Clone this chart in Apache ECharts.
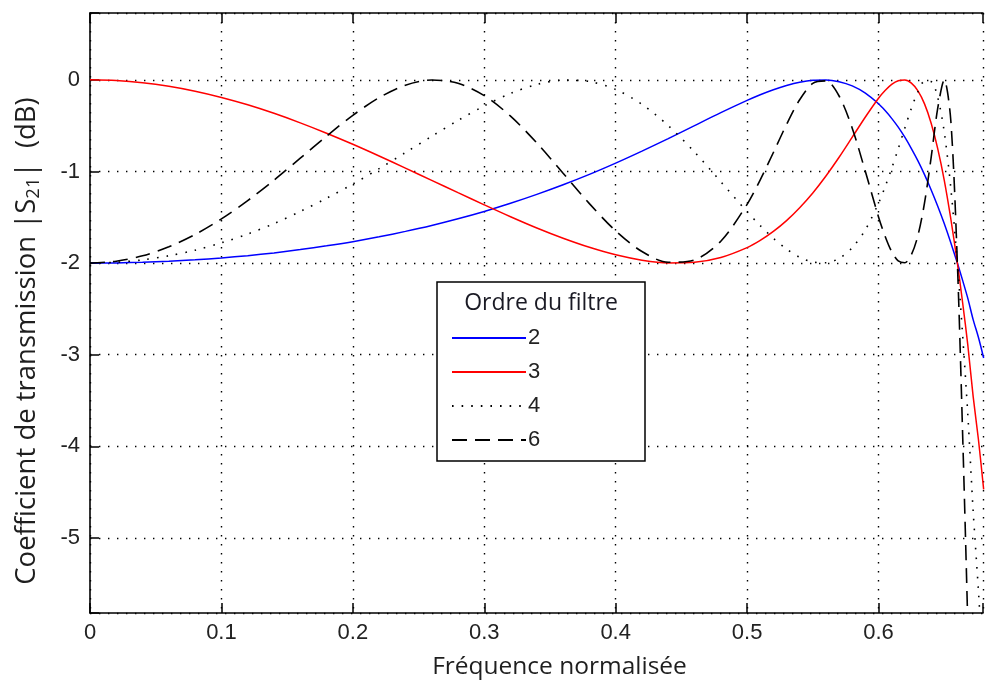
<!DOCTYPE html>
<html><head><meta charset="utf-8">
<script src="https://cdn.jsdelivr.net/npm/echarts@6/dist/echarts.min.js"></script>
<style>html,body{margin:0;padding:0;background:#fff}#c{width:986px;height:688px}</style>
</head><body><div id="c"></div>
<script>
// Normalised frequency samples
const freq = [0, 0.02, 0.04, 0.06, 0.08, 0.10, 0.12, 0.14, 0.16, 0.18, 0.20, 0.22, 0.24, 0.26, 0.28, 0.30, 0.32, 0.34, 0.36, 0.38, 0.40, 0.42, 0.44, 0.46, 0.48, 0.50,
  0.51, 0.52, 0.53, 0.54, 0.55, 0.56, 0.57, 0.58, 0.59, 0.60,
  0.605, 0.61, 0.615, 0.62, 0.625, 0.63, 0.635, 0.64, 0.645, 0.65, 0.655, 0.66,
  0.664, 0.668, 0.672, 0.676, 0.68];
// |S21| (dB), one list per filter order
const order2 = [-2.000, -1.998, -1.991, -1.980, -1.964, -1.944, -1.919, -1.889, -1.853, -1.812, -1.766, -1.713, -1.654, -1.589, -1.516, -1.436, -1.347, -1.250, -1.145, -1.032, -0.909, -0.778, -0.641, -0.499, -0.358, -0.224,
  -0.162, -0.107, -0.061, -0.025, -0.004, -0.001, -0.020, -0.066, -0.145, -0.261,
  -0.335, -0.420, -0.516, -0.626, -0.750, -0.884, -1.034, -1.199, -1.377, -1.569, -1.778, -2.000,
  -2.189, -2.388, -2.617, -2.810, -3.036];
const order3 = [0, -0.008, -0.031, -0.070, -0.124, -0.192, -0.272, -0.365, -0.469, -0.582, -0.703, -0.831, -0.963, -1.097, -1.231, -1.364, -1.494, -1.617, -1.729, -1.828, -1.910, -1.968, -1.998, -1.991, -1.939, -1.831,
  -1.752, -1.654, -1.536, -1.395, -1.234, -1.049, -0.845, -0.626, -0.405, -0.200,
  -0.116, -0.049, -0.009, -0.002, -0.036, -0.120, -0.262, -0.470, -0.747, -1.094, -1.516, -2.000,
  -2.433, -2.902, -3.456, -3.923, -4.471];
const order4 = [-2.000, -1.991, -1.965, -1.920, -1.859, -1.779, -1.683, -1.569, -1.436, -1.292, -1.138, -0.969, -0.794, -0.616, -0.443, -0.284, -0.148, -0.050, -0.003, -0.018, -0.105, -0.267, -0.499, -0.788, -1.112, -1.439,
  -1.591, -1.729, -1.847, -1.936, -1.989, -1.997, -1.949, -1.832, -1.636, -1.346,
  -1.168, -0.966, -0.752, -0.527, -0.310, -0.130, -0.017, -0.019, -0.189, -0.567, -1.180, -2.000,
  -2.788, -3.667, -4.704, -5.571, -6.568];
const order6 = [-2.000, -1.980, -1.921, -1.823, -1.688, -1.518, -1.318, -1.095, -0.855, -0.614, -0.387, -0.194, -0.058, -0.001, -0.037, -0.172, -0.396, -0.689, -1.019, -1.351, -1.649, -1.874, -1.991, -1.965, -1.761, -1.359,
  -1.091, -0.793, -0.487, -0.217, -0.038, -0.011, -0.176, -0.527, -1.001, -1.496,
  -1.707, -1.875, -1.976, -1.996, -1.909, -1.698, -1.344, -0.852, -0.315, -0.001, -0.443, -2.000,
  -3.869, -5.983, -8.346, -10.19, -12.18];
const seriesNames = ['2', '3', '4', '6'];
const xTickValues = [0, 0.1, 0.2, 0.3, 0.4, 0.5, 0.6];
const xTickLabels = ['0', '0.1', '0.2', '0.3', '0.4', '0.5', '0.6'];
const yTickValues = [0, -1, -2, -3, -4, -5];
const yTickLabels = ['0', '-1', '-2', '-3', '-4', '-5'];

const tickFont = 'Liberation Sans';
const titleFont = 'Open Sans';
const pairs = arr => freq.map((f, i) => [f, arr[i]]);
const lookup = (vals, labels, v) => {
  for (let i = 0; i < vals.length; i++) if (Math.abs(vals[i] - v) < 1e-6) return labels[i];
  return '';
};
const gridLine = { show: true, lineStyle: { color: '#000', width: 1.4, type: [1.4, 7.6] } };

const chart = echarts.init(document.getElementById('c'), null, { renderer: 'canvas' });
chart.setOption({
  animation: false,
  grid: { left: 90, right: 0, top: 13, bottom: 75 },
  xAxis: [{
    type: 'value', min: 0, max: 0.6795, position: 'bottom',
    axisLine: { show: true, onZero: false, lineStyle: { color: '#000', width: 1.6 } },
    axisTick: { show: true, inside: true, length: 10, lineStyle: { color: '#000', width: 1.5 } },
    axisLabel: { show: true, margin: 9, color: '#222', fontFamily: tickFont, fontSize: 22,
      formatter: v => lookup(xTickValues, xTickLabels, v) },
    splitLine: gridLine,
    name: 'Fréquence normalisée', nameLocation: 'middle', nameGap: 42,
    nameTextStyle: { fontFamily: titleFont, fontSize: 24.5, color: '#1e1e1e', padding: [0, 0, 0, 46] }
  }, {
    type: 'value', min: 0, max: 0.6795, position: 'top',
    axisLine: { show: true, onZero: false, lineStyle: { color: '#000', width: 1.6 } },
    axisTick: { show: true, inside: true, length: 10, lineStyle: { color: '#000', width: 1.5 } },
    axisLabel: { show: false }, splitLine: { show: false }
  }],
  yAxis: {
    type: 'value', min: -5.82, max: 0.73,
    axisLine: { show: true, onZero: false, lineStyle: { color: '#000', width: 1.6 } },
    axisTick: { show: true, inside: true, length: 9, lineStyle: { color: '#000', width: 1.5 } },
    axisLabel: { show: true, margin: 10, color: '#222', fontFamily: tickFont, fontSize: 22,
      formatter: v => lookup(yTickValues, yTickLabels, v) },
    splitLine: gridLine,
    name: 'Coefficient de transmission |S{sub|21}|  (dB)', nameLocation: 'middle', nameGap: 47,
    nameTextStyle: { fontFamily: titleFont, fontSize: 27.5, color: '#1e1e1e', lineHeight: 31, padding: [0, 56, 0, 0],
      rich: { sub: { fontFamily: titleFont, fontSize: 18.5, color: '#1e1e1e', verticalAlign: 'bottom' } } }
  },
  legend: {
    orient: 'vertical', left: 451, top: 327, padding: 0, itemWidth: 74, itemHeight: 14, itemGap: 12,
    data: seriesNames, selectedMode: false, z: 10,
    itemStyle: { opacity: 0 },
    textStyle: { fontFamily: tickFont, fontSize: 22, color: '#222', padding: [0, 0, 0, -3] }
  },
  graphic: [
    { type: 'rect', z: 6, shape: { x: 437, y: 282, width: 208, height: 179 },
      style: { fill: '#fff', stroke: '#000', lineWidth: 1.5 } },
    { type: 'text', z: 7, x: 541, y: 303,
      style: { text: 'Ordre du filtre', fontFamily: titleFont, fontSize: 23, fill: '#1a1a24', align: 'center', verticalAlign: 'middle' } }
  ],
  series: [
    { name: seriesNames[0], type: 'line', data: pairs(order2), symbol: 'none', smooth: 0.3, silent: true,
      lineStyle: { color: '#0000ff', width: 1.5 }, itemStyle: { color: '#0000ff' } },
    { name: seriesNames[1], type: 'line', data: pairs(order3), symbol: 'none', smooth: 0.3, silent: true,
      lineStyle: { color: '#ff0000', width: 1.5 }, itemStyle: { color: '#ff0000' } },
    { name: seriesNames[2], type: 'line', data: pairs(order4), symbol: 'none', smooth: 0.3, silent: true,
      lineStyle: { color: '#000', width: 1.6, type: [1.6, 8] }, itemStyle: { color: '#000' } },
    { name: seriesNames[3], type: 'line', data: pairs(order6), symbol: 'none', smooth: 0.3, silent: true,
      lineStyle: { color: '#000', width: 1.6, type: [15, 8] }, itemStyle: { color: '#000' } }
  ]
});
</script>
</body></html>
